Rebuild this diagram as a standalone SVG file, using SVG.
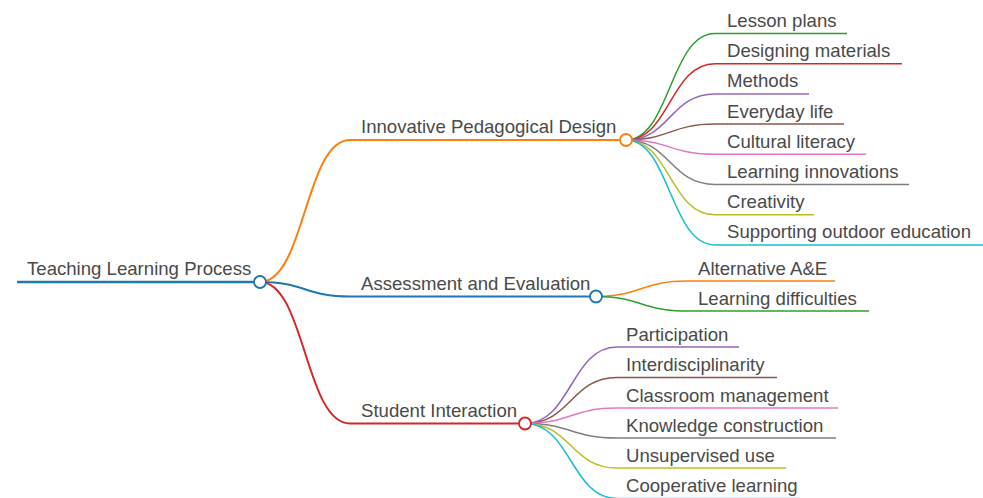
<svg xmlns="http://www.w3.org/2000/svg" width="983" height="498" viewBox="0 0 983 498">
  <style>
    text { font-family: "Liberation Sans", Arial, sans-serif; font-size: 18.6px; fill: #4a4a4a; }
    .link { fill: none; }
    .d0 { stroke-width: 2.5; fill: none; }
    .d1 { stroke-width: 2; fill: none; }
    .d2 { stroke-width: 1.5; fill: none; }
    .dot { fill: #fff; stroke-width: 1.8; }
    .blue { stroke: #1f77b4; }
    .orange { stroke: #ff7f0e; }
    .green { stroke: #2ca02c; }
    .red { stroke: #d62728; }
    .purple { stroke: #9467bd; }
    .brown { stroke: #8c564b; }
    .pink { stroke: #e377c2; }
    .gray { stroke: #7f7f7f; }
    .olive { stroke: #bcbd22; }
    .cyan { stroke: #17becf; }
  </style>
  <rect width="983" height="498" fill="#fff"/>

  <!-- connectors: horizontal S-curves from each parent dot to its child's underline -->
  <g id="connectors" class="link">
    <path class="d1 orange" d="M260,282 C305,282 305,140 350,140"/>
    <path class="d1 blue" d="M260,282 C305,282 305,296.5 350,296.5"/>
    <path class="d1 red" d="M260,282 C305,282 305,423.5 350,423.5"/>

    <path class="d2 green" d="M626,140 C670,140 670,33.5 715,33.5"/>
    <path class="d2 red" d="M626,140 C670,140 670,63.7 715,63.7"/>
    <path class="d2 purple" d="M626,140 C670,140 670,93.9 715,93.9"/>
    <path class="d2 brown" d="M626,140 C670,140 670,124.1 715,124.1"/>
    <path class="d2 pink" d="M626,140 C670,140 670,154.3 715,154.3"/>
    <path class="d2 gray" d="M626,140 C670,140 670,184.5 715,184.5"/>
    <path class="d2 olive" d="M626,140 C670,140 670,214.7 715,214.7"/>
    <path class="d2 cyan" d="M626,140 C670,140 670,244.9 715,244.9"/>

    <path class="d2 orange" d="M596,296.5 C641,296.5 641,281 687,281"/>
    <path class="d2 green" d="M596,296.5 C641,296.5 641,311 687,311"/>

    <path class="d2 purple" d="M525,423.5 C571,423.5 571,347 617,347"/>
    <path class="d2 brown" d="M525,423.5 C571,423.5 571,377.5 617,377.5"/>
    <path class="d2 pink" d="M525,423.5 C571,423.5 571,408 617,408"/>
    <path class="d2 gray" d="M525,423.5 C571,423.5 571,438 617,438"/>
    <path class="d2 olive" d="M525,423.5 C571,423.5 571,468 617,468"/>
    <path class="d2 cyan" d="M525,423.5 C571,423.5 571,498.5 617,498.5"/>
  </g>

  <!-- root -->
  <g id="root">
    <line class="d0 blue" x1="17" y1="282" x2="254" y2="282"/>
    <text x="27" y="274.5">Teaching Learning Process</text>
    <circle class="dot blue" cx="260" cy="282" r="6"/>
  </g>

  <!-- first level -->
  <g id="innovative-pedagogical-design">
    <line class="d1 orange" x1="350" y1="140" x2="620" y2="140"/>
    <text x="361" y="133">Innovative Pedagogical Design</text>
    <circle class="dot orange" cx="626" cy="140" r="6"/>
  </g>
  <g id="assessment-and-evaluation">
    <line class="d1 blue" x1="350" y1="296.5" x2="590" y2="296.5"/>
    <text x="361" y="290">Assessment and Evaluation</text>
    <circle class="dot blue" cx="596" cy="296.5" r="6"/>
  </g>
  <g id="student-interaction">
    <line class="d1 red" x1="350" y1="423.5" x2="519" y2="423.5"/>
    <text x="361" y="417">Student Interaction</text>
    <circle class="dot red" cx="525" cy="423.5" r="6"/>
  </g>

  <!-- Innovative Pedagogical Design children -->
  <g id="lesson-plans">
    <line class="d2 green" x1="715" y1="33.5" x2="847" y2="33.5"/>
    <text x="727" y="27">Lesson plans</text>
  </g>
  <g id="designing-materials">
    <line class="d2 red" x1="715" y1="63.7" x2="902" y2="63.7"/>
    <text x="727" y="57.2">Designing materials</text>
  </g>
  <g id="methods">
    <line class="d2 purple" x1="715" y1="93.9" x2="809" y2="93.9"/>
    <text x="727" y="87.4">Methods</text>
  </g>
  <g id="everyday-life">
    <line class="d2 brown" x1="715" y1="124.1" x2="844" y2="124.1"/>
    <text x="727" y="117.6">Everyday life</text>
  </g>
  <g id="cultural-literacy">
    <line class="d2 pink" x1="715" y1="154.3" x2="866" y2="154.3"/>
    <text x="727" y="147.8">Cultural literacy</text>
  </g>
  <g id="learning-innovations">
    <line class="d2 gray" x1="715" y1="184.5" x2="909" y2="184.5"/>
    <text x="727" y="178">Learning innovations</text>
  </g>
  <g id="creativity">
    <line class="d2 olive" x1="715" y1="214.7" x2="814" y2="214.7"/>
    <text x="727" y="208.2">Creativity</text>
  </g>
  <g id="supporting-outdoor-education">
    <line class="d2 cyan" x1="715" y1="244.9" x2="990" y2="244.9"/>
    <text x="727" y="238.4">Supporting outdoor education</text>
  </g>

  <!-- Assessment and Evaluation children -->
  <g id="alternative-ae">
    <line class="d2 orange" x1="687" y1="281" x2="835" y2="281"/>
    <text x="698" y="274.5">Alternative A&amp;E</text>
  </g>
  <g id="learning-difficulties">
    <line class="d2 green" x1="687" y1="311" x2="869" y2="311"/>
    <text x="698" y="304.5">Learning difficulties</text>
  </g>

  <!-- Student Interaction children -->
  <g id="participation">
    <line class="d2 purple" x1="617" y1="347" x2="739" y2="347"/>
    <text x="626" y="340.5">Participation</text>
  </g>
  <g id="interdisciplinarity">
    <line class="d2 brown" x1="617" y1="377.5" x2="777" y2="377.5"/>
    <text x="626" y="371">Interdisciplinarity</text>
  </g>
  <g id="classroom-management">
    <line class="d2 pink" x1="617" y1="408" x2="838" y2="408"/>
    <text x="626" y="401.5">Classroom management</text>
  </g>
  <g id="knowledge-construction">
    <line class="d2 gray" x1="617" y1="438" x2="836" y2="438"/>
    <text x="626" y="431.5">Knowledge construction</text>
  </g>
  <g id="unsupervised-use">
    <line class="d2 olive" x1="617" y1="468" x2="786" y2="468"/>
    <text x="626" y="461.5">Unsupervised use</text>
  </g>
  <g id="cooperative-learning">
    <line class="d2 cyan" x1="617" y1="498.5" x2="800" y2="498.5"/>
    <text x="626" y="492">Cooperative learning</text>
  </g>
</svg>
